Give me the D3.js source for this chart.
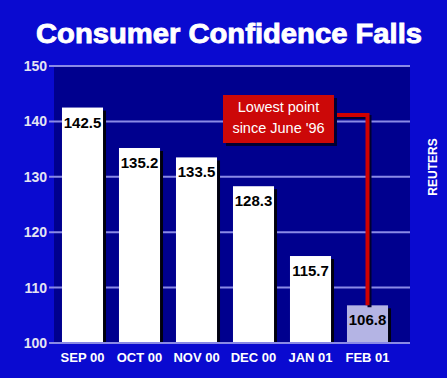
<!DOCTYPE html>
<html><head><meta charset="utf-8">
<script src="https://cdn.jsdelivr.net/npm/d3@7"></script>
<style>html,body{margin:0;padding:0;background:#0a0ad0;}svg{display:block;}</style>
</head><body>
<script>
const categories = ["SEP 00","OCT 00","NOV 00","DEC 00","JAN 01","FEB 01"];
const values = [142.5,135.2,133.5,128.3,115.7,106.8];
const yTicks = [100,110,120,130,140,150];
const title = "Consumer Confidence Falls";
const callout = ["Lowest point","since June '96"];
const source = "REUTERS";

const W=447,H=378;
const svg=d3.select("body").append("svg").attr("width",W).attr("height",H);
svg.append("rect").attr("width",W).attr("height",H).attr("fill","#0a0ad0");

const plot={l:54,r:410,t:66,b:343};
const x=d3.scaleBand().domain(categories).range([54,396]).paddingInner(0.28).paddingOuter(0.14);
const y=d3.scaleLinear().domain([100,150]).range([plot.b,plot.t]);

svg.append("rect").attr("x",plot.l).attr("y",plot.t).attr("width",plot.r-plot.l).attr("height",plot.b-plot.t).attr("fill","#00008e");

// gridlines
svg.append("g").selectAll("line").data(yTicks).join("line")
  .attr("x1",49).attr("x2",plot.r).attr("y1",d=>y(d)).attr("y2",d=>y(d))
  .attr("stroke","#8a8ae6").attr("stroke-width",2);

// y labels
svg.append("g").selectAll("text").data(yTicks).join("text")
  .attr("x",47).attr("y",d=>y(d)+5).attr("text-anchor","end")
  .attr("fill","#e4e4f2").attr("font-family","Liberation Sans, Arial, sans-serif")
  .attr("font-weight","bold").attr("font-size",14).text(d=>d);

// shadows
svg.append("g").selectAll("rect").data(values).join("rect")
  .attr("x",(d,i)=>x(categories[i])+3).attr("y",d=>y(d)+3)
  .attr("width",x.bandwidth()).attr("height",d=>plot.b-y(d)-3).attr("fill","#000010");
// bars
svg.append("g").selectAll("rect").data(values).join("rect")
  .attr("x",(d,i)=>x(categories[i])).attr("y",d=>y(d))
  .attr("width",x.bandwidth()).attr("height",d=>plot.b-y(d))
  .attr("fill",(d,i)=>i===values.length-1?"#b4b4e4":"#ffffff");
// redraw baseline over shadows
svg.append("line").attr("x1",49).attr("x2",plot.r).attr("y1",plot.b).attr("y2",plot.b)
  .attr("stroke","#8a8ae6").attr("stroke-width",2);

// value labels
svg.append("g").selectAll("text").data(values).join("text")
  .attr("x",(d,i)=>x(categories[i])+x.bandwidth()/2).attr("y",d=>y(d)+20)
  .attr("text-anchor","middle").attr("fill","#000").attr("font-family","Liberation Sans, Arial, sans-serif")
  .attr("font-weight","bold").attr("font-size",15).text(d=>d.toFixed(1));

// x labels
svg.append("g").selectAll("text").data(categories).join("text")
  .attr("x",d=>x(d)+x.bandwidth()/2).attr("y",362).attr("text-anchor","middle")
  .attr("fill","#ffffff").attr("font-family","Liberation Sans, Arial, sans-serif")
  .attr("font-weight","bold").attr("font-size",13).text(d=>d);

// callout line
const last=categories.length-1;
const lx=x(categories[last])+x.bandwidth()/2;
const ly=115;
const path=`M334,${ly} H${lx} V${y(values[last])}`;
svg.append("path").attr("d",path).attr("transform","translate(2,2)").attr("fill","none").attr("stroke","#000030").attr("stroke-width",4);
svg.append("path").attr("d",path).attr("fill","none").attr("stroke","#d00000").attr("stroke-width",4);
// callout box
svg.append("rect").attr("x",226).attr("y",98).attr("width",111).attr("height",48).attr("fill","#000030");
svg.append("rect").attr("x",223).attr("y",95).attr("width",111).attr("height",48).attr("fill","#cc0808");
svg.append("text").attr("x",278.5).attr("y",112).attr("text-anchor","middle").attr("fill","#fff")
  .attr("font-family","Liberation Sans, Arial, sans-serif").attr("font-size",14.5)
  .selectAll("tspan").data(callout).join("tspan").attr("x",278.5).attr("dy",(d,i)=>i?21:0).text(d=>d);

// source
svg.append("text").attr("transform","translate(437,167) rotate(-90)").attr("text-anchor","middle")
  .attr("fill","#fff").attr("font-family","Liberation Sans, Arial, sans-serif").attr("font-weight","bold")
  .attr("font-size",12).text(source);

// title
svg.append("text").attr("x",229).attr("y",43).attr("text-anchor","middle").attr("fill","#fff")
  .attr("stroke","#fff").attr("stroke-width",0.9)
  .attr("font-family","Liberation Sans, Arial, sans-serif").attr("font-weight","900").attr("font-size",28)
  .attr("textLength",386).attr("lengthAdjust","spacingAndGlyphs").text(title);
</script>
</body></html>
